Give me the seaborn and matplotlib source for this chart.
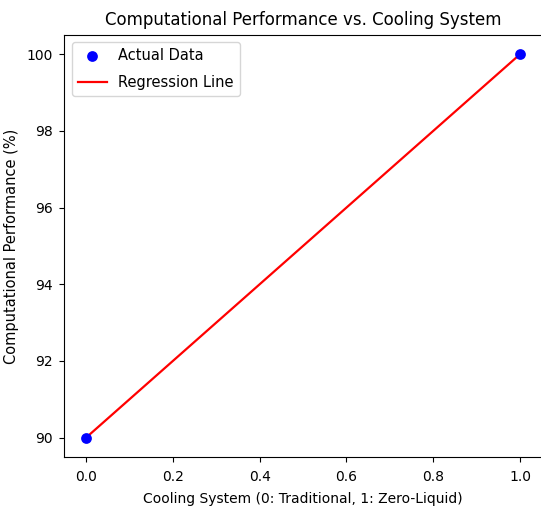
import numpy as np
import pandas as pd
import matplotlib
matplotlib.use("Agg")
import matplotlib.pyplot as plt
import seaborn as sns

cooling = [0, 1]
performance = [90, 100]
title = "Computational Performance vs. Cooling System"
xlabel = "Cooling System (0: Traditional, 1: Zero-Liquid)"
ylabel = "Computational Performance (%)"

plt.rcParams["font.family"] = ["DejaVu Sans"]

df = pd.DataFrame({"x": cooling, "y": performance})
slope, intercept = np.polyfit(df["x"], df["y"], 1)
df["pred"] = slope * df["x"] + intercept

fig = plt.figure(figsize=(5.41, 5.07), dpi=100)
ax = fig.add_axes([0.119, 0.099, 0.8825, 0.832])
sns.scatterplot(data=df, x="x", y="y", color="blue", s=60, edgecolor="blue",
                linewidth=0, label="Actual Data", ax=ax, zorder=3)
sns.lineplot(data=df, x="x", y="pred", color="red", linewidth=1.6,
             label="Regression Line", ax=ax, zorder=2)
ax.spines["right"].set_visible(False)
ax.set_title(title, fontsize=12, pad=7)
ax.set_xlabel(xlabel, fontsize=10, labelpad=6)
ax.set_ylabel(ylabel, fontsize=10.5, labelpad=5)
ax.tick_params(labelsize=10)
ax.tick_params(axis="x", pad=6)
ax.tick_params(axis="y", pad=5)
ax.set_xticks([0, 0.2, 0.4, 0.6, 0.8, 1.0])
ax.set_yticks([90, 92, 94, 96, 98, 100])
ax.legend(loc="upper left", fontsize=10.5, labelspacing=0.8)
fig.savefig("out.png", dpi=100)
